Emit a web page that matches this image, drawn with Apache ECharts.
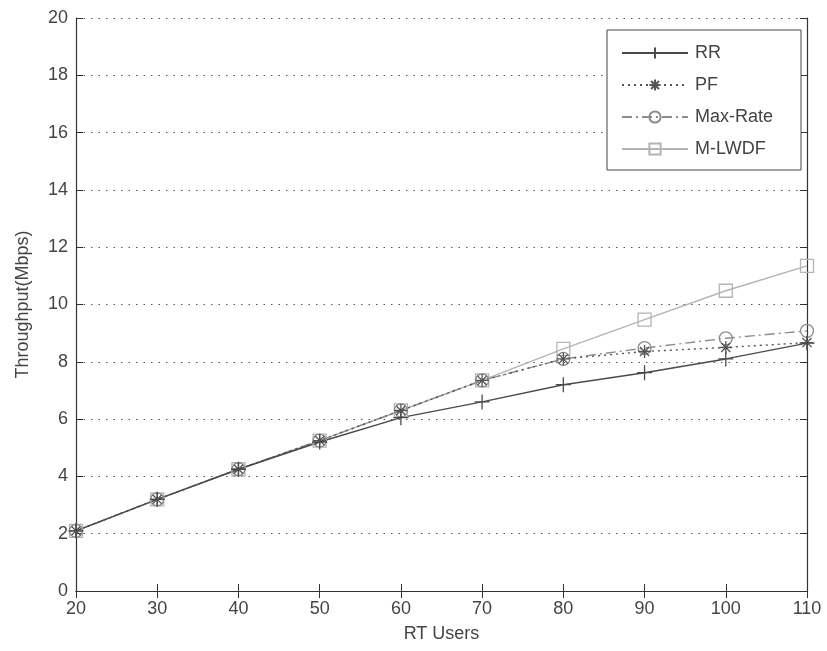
<!DOCTYPE html>
<html>
<head>
<meta charset="utf-8">
<script src="https://cdn.jsdelivr.net/npm/echarts@6/dist/echarts.min.js"></script>
<style>
  html, body { margin: 0; padding: 0; background: #fff; }
  #chart { width: 827px; height: 651px; }
</style>
</head>
<body>
<div id="chart"></div>
<script>
// data
const users = [20, 30, 40, 50, 60, 70, 80, 90, 100, 110]
const rr = [2.1, 3.2, 4.25, 5.2, 6.05, 6.6, 7.2, 7.62, 8.1, 8.65]
const pf = [2.1, 3.2, 4.25, 5.25, 6.3, 7.35, 8.1, 8.36, 8.5, 8.67]
const maxRate = [2.1, 3.2, 4.25, 5.25, 6.3, 7.35, 8.1, 8.48, 8.82, 9.08]
const mlwdf = [2.1, 3.2, 4.25, 5.25, 6.3, 7.35, 8.45, 9.47, 10.48, 11.35]

const font = "'Liberation Sans Narrow', 'Liberation Sans', Arial, sans-serif"
const axisColor = '#333'
const textColor = '#444'

const crossPath = 'path://M5,0L5,10M0,5L10,5'
const starPath = 'path://M5,0L5,10M0,5L10,5M1.5,1.5L8.5,8.5M8.5,1.5L1.5,8.5'

const pairs = vals => users.map((u, i) => [u, vals[i]])

const mkSeries = (name, vals, color, lineType, symbol, size) => ({
  name,
  type: 'line',
  data: pairs(vals),
  symbol,
  symbolSize: size,
  showSymbol: true,
  lineStyle: { color, width: 1.4, type: lineType },
  itemStyle: { color: 'rgba(255,255,255,0)', borderColor: color, borderWidth: 1.3 },
  emphasis: { disabled: true },
  animation: false
})

const chart = echarts.init(document.getElementById('chart'))

const option = {
  backgroundColor: '#fff',
  textStyle: { fontFamily: font },
  grid: { left: 76, right: 20, top: 18, bottom: 60, show: false },
  legend: {
    orient: 'vertical',
    left: 607,
    top: 30,
    padding: [14, 28, 12, 14],
    itemGap: 14,
    itemWidth: 66,
    itemHeight: 14,
    backgroundColor: '#fff',
    borderColor: '#444',
    borderWidth: 1,
    borderRadius: 0,
    textStyle: { fontFamily: font, fontSize: 18, color: textColor, padding: [0, 0, 0, 2] },
    data: ['RR', 'PF', 'Max-Rate', 'M-LWDF']
  },
  xAxis: [
    {
      type: 'value',
      min: 20,
      max: 110,
      interval: 10,
      name: 'RT Users',
      nameLocation: 'middle',
      nameGap: 34,
      nameTextStyle: { fontFamily: font, fontSize: 18, color: textColor },
      axisLine: { show: true, lineStyle: { color: axisColor, width: 1.2 } },
      axisTick: { show: true, inside: true, length: 7, lineStyle: { color: axisColor } },
      axisLabel: { fontFamily: font, fontSize: 18, color: textColor, margin: 9 },
      splitLine: { show: false }
    },
    {
      type: 'value',
      position: 'top',
      min: 20,
      max: 110,
      interval: 10,
      axisLine: { show: true, lineStyle: { color: axisColor, width: 1.2 } },
      axisTick: { show: true, inside: true, length: 7, lineStyle: { color: axisColor } },
      axisLabel: { show: false },
      splitLine: { show: false }
    }
  ],
  yAxis: [
    {
      type: 'value',
      min: 0,
      max: 20,
      interval: 2,
      name: 'Throughput(Mbps)',
      nameLocation: 'middle',
      nameGap: 44,
      nameTextStyle: { fontFamily: font, fontSize: 18, color: textColor },
      axisLine: { show: true, lineStyle: { color: axisColor, width: 1.2 } },
      axisTick: { show: true, inside: true, length: 7, lineStyle: { color: axisColor } },
      axisLabel: { fontFamily: font, fontSize: 18, color: textColor, margin: 8 },
      splitLine: { show: true, lineStyle: { color: '#555', type: [1.5, 6], width: 1.2 } }
    },
    {
      type: 'value',
      position: 'right',
      min: 0,
      max: 20,
      interval: 2,
      axisLine: { show: true, lineStyle: { color: axisColor, width: 1.2 } },
      axisTick: { show: true, inside: true, length: 7, lineStyle: { color: axisColor } },
      axisLabel: { show: false },
      splitLine: { show: false }
    }
  ],
  series: [
    mkSeries('M-LWDF', mlwdf, '#b4b4b4', 'solid', 'rect', 13),
    mkSeries('Max-Rate', maxRate, '#8c8c8c', [10, 4, 2, 4], 'circle', 13),
    mkSeries('PF', pf, '#555', [2, 4], starPath, 13),
    mkSeries('RR', rr, '#4a4a4a', 'solid', crossPath, 15)
  ]
}

chart.setOption(option)
</script>
</body>
</html>
